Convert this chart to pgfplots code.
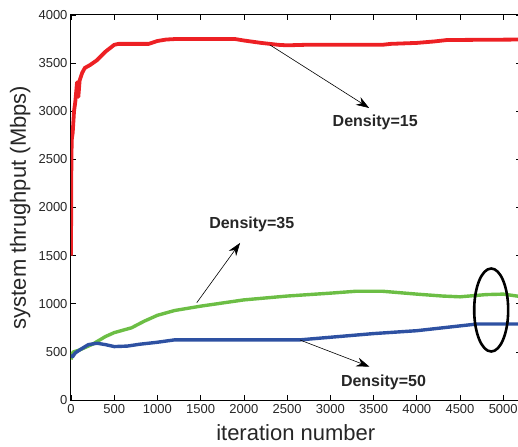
\documentclass[border=0pt]{standalone}
\usepackage{pgfplots}
\pgfplotsset{compat=1.18}
\usepackage{fontspec}
\setmainfont{Liberation Sans}
\usetikzlibrary{arrows.meta}
\definecolor{cred}{RGB}{237,32,36}
\definecolor{cgreen}{RGB}{108,190,69}
\definecolor{cblue}{RGB}{46,81,162}
\begin{document}
\begin{tikzpicture}
\useasboundingbox (-71pt,-46pt) rectangle (447pt,400pt);
\begin{axis}[
  scale only axis,
  width=449.5pt, height=385pt,
  xmin=0, xmax=5200, ymin=0, ymax=4000,
  xtick={0,500,...,5000}, ytick={0,500,...,4000},
  /pgf/number format/assume math mode=true,
  /pgf/number format/set thousands separator={},
  tick label style={font=\fontsize{13}{15}\selectfont, color=black!85},
  xticklabel style={yshift=-1pt},
  major tick length=5pt,
  tick style={black, line width=0.6pt},
  axis line style={black, line width=1pt},
  xlabel={iteration number},
  ylabel={system thrughput (Mbps)},
  label style={font=\fontsize{22}{24}\selectfont, color=black!85},
  xlabel style={at={(axis description cs:0.5,0)}, anchor=center, yshift=-33pt, inner sep=0pt},
  ylabel style={at={(axis description cs:-0.113,0.5)}, anchor=center},
  clip=true,
]
\addplot[cred, line width=3.8pt, line join=round] coordinates {
(0,1500) (3,2300) (8,2700) (20,2780) (35,3000) (50,3100) (70,3300) (85,3150) (100,3320) (130,3400) (160,3450) (220,3480) (300,3530) (400,3620) (500,3690) (550,3700) (900,3700) (1000,3730) (1100,3745) (1200,3750) (1900,3750) (2000,3735) (2200,3710) (2400,3690) (2500,3685) (2700,3690) (3600,3690) (3700,3700) (4000,3710) (4200,3725) (4350,3740) (5200,3745)
};
\addplot[cgreen, line width=3.4pt, line join=round] coordinates {
(0,420) (10,480) (30,500) (100,520) (250,580) (400,660) (500,700) (700,750) (850,820) (1000,880) (1200,930) (1500,975) (2000,1040) (2500,1080) (3000,1110) (3300,1130) (3600,1130) (4000,1100) (4300,1080) (4500,1072) (4800,1095) (5000,1100) (5200,1075)
};
\addplot[cblue, line width=3.4pt, line join=round] coordinates {
(0,470) (20,450) (50,490) (100,520) (200,575) (300,590) (400,575) (500,555) (650,560) (800,580) (1000,600) (1200,625) (2650,625) (3500,690) (4000,720) (4500,770) (4700,790) (5200,790)
};
\draw[black, line width=0.6pt, -{Stealth[length=13pt,width=9pt]}] (axis cs:2303,3688) -- (axis cs:3449,3034);
\draw[black, line width=0.6pt, -{Stealth[length=13pt,width=9pt]}] (axis cs:1455,1011) -- (axis cs:1956,1632);
\draw[black, line width=0.6pt, -{Stealth[length=13pt,width=9pt]}] (axis cs:2650,623) -- (axis cs:3453,346);
\node[font=\bfseries\fontsize{16}{18}\selectfont, text=black!85] at (axis cs:3519,2888) {Density=15};
\node[font=\bfseries\fontsize{16}{18}\selectfont, text=black!85] at (axis cs:2091,1829) {Density=35};
\node[font=\bfseries\fontsize{16}{18}\selectfont, text=black!85] at (axis cs:3615,184) {Density=50};
\draw[black, line width=2.6pt] (axis cs:4861,935) ellipse [x radius=17pt, y radius=41.5pt];
\end{axis}
\end{tikzpicture}
\end{document}
